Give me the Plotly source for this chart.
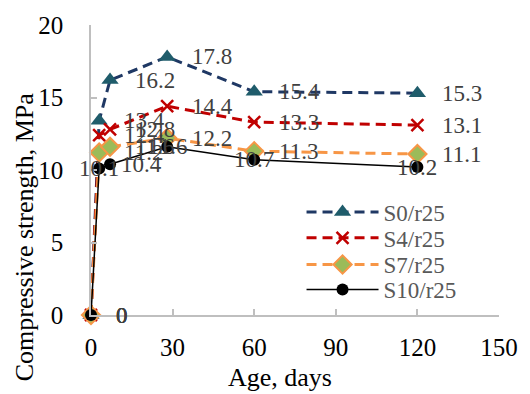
import plotly.graph_objects as go

days = [0, 3, 7, 28, 60, 120]
s0 = [0, 13.4, 16.2, 17.8, 15.4, 15.3]
s4 = [0, 12.4, 12.8, 14.4, 13.3, 13.1]
s7 = [0, 11.2, 11.6, 12.2, 11.3, 11.1]
s10 = [0, 10.1, 10.4, 11.6, 10.7, 10.2]
names = ["S0/r25", "S4/r25", "S7/r25", "S10/r25"]
x_ticks = [0, 30, 60, 90, 120, 150]
y_ticks = [0, 5, 10, 15, 20]

FONT = "Liberation Serif, Times New Roman, serif"

styles = [
    dict(line=dict(color="#1F3864", width=3, dash="10px,6px"),
         marker=dict(symbol="triangle-up", size=15, color="#1F5C6B")),
    dict(line=dict(color="#C00000", width=3, dash="10px,6px"),
         marker=dict(symbol="x-thin", size=12, color="#C00000",
                     line=dict(color="#C00000", width=2.5))),
    dict(line=dict(color="#F79646", width=3, dash="10px,6px"),
         marker=dict(symbol="diamond", size=14, color="#9BBB59",
                     line=dict(color="#F79646", width=2))),
    dict(line=dict(color="#000000", width=1.5),
         marker=dict(symbol="circle", size=12, color="#000000")),
]
legend_ids = ["legend", "legend2", "legend3", "legend4"]
legend_y = [0.355, 0.266, 0.174, 0.088]

fig = go.Figure()
series = [s0, s4, s7, s10]
for nm, vals, st, lg in zip(names, series, styles, legend_ids):
    fig.add_trace(go.Scatter(x=days, y=vals, name=nm, mode="lines+markers",
                             cliponaxis=False, legend=lg, **st))

# data label placement (style): per series, per point (anchor, xshift)
right = ("left", 23)
center = ("center", 0)
label_pos = [
    [right] * 6,
    [right] * 6,
    [right] * 6,
    [right, center, ("left", 9), center, center, center],
]
for vals, pos in zip(series, label_pos):
    for d, v, (anc, xs) in zip(days, vals, pos):
        fig.add_annotation(x=d, y=v, text=f"{v:g}", showarrow=False,
                           xanchor=anc, yanchor="middle", xshift=xs,
                           font=dict(family=FONT, size=23, color="#404040"))

fig.add_annotation(xref="paper", yref="paper", x=0.463, y=-0.217,
                   text="Age, days", showarrow=False, xanchor="center",
                   yanchor="middle", font=dict(family=FONT, size=26, color="#000000"))
fig.add_annotation(xref="paper", yref="paper", x=-0.161, y=0.269,
                   text="Compressive strength, MPa", showarrow=False, textangle=-90,
                   xanchor="center", yanchor="middle",
                   font=dict(family=FONT, size=26, color="#000000"))

axis_common = dict(showgrid=False, zeroline=False, showline=True,
                   linecolor="#BFBFBF", linewidth=1.5, ticks="inside",
                   ticklen=6, tickcolor="#BFBFBF", tickwidth=1.5,
                   tickfont=dict(family=FONT, size=25, color="#000000"))
fig.update_xaxes(range=[0, 150], tickvals=x_ticks, ticklabelstandoff=9, **axis_common)
fig.update_yaxes(range=[0, 20], tickvals=y_ticks, ticklabelstandoff=21, **axis_common)

legend_common = dict(xanchor="left", yanchor="middle", x=0.516,
                     bgcolor="rgba(255,255,255,0)", itemwidth=72,
                     font=dict(family=FONT, size=23, color="#595959"),
                     itemsizing="trace")
fig.update_layout(
    width=530, height=394,
    margin=dict(l=91, r=22, t=25, b=79),
    paper_bgcolor="white", plot_bgcolor="white",
    showlegend=True,
    **{lg: dict(y=ly, **legend_common) for lg, ly in zip(legend_ids, legend_y)},
)

fig.write_html(
    "out.html",
    config={"displayModeBar": False},
    post_script="document.body.style.margin='0';"
                "document.documentElement.style.overflow='hidden';",
)
